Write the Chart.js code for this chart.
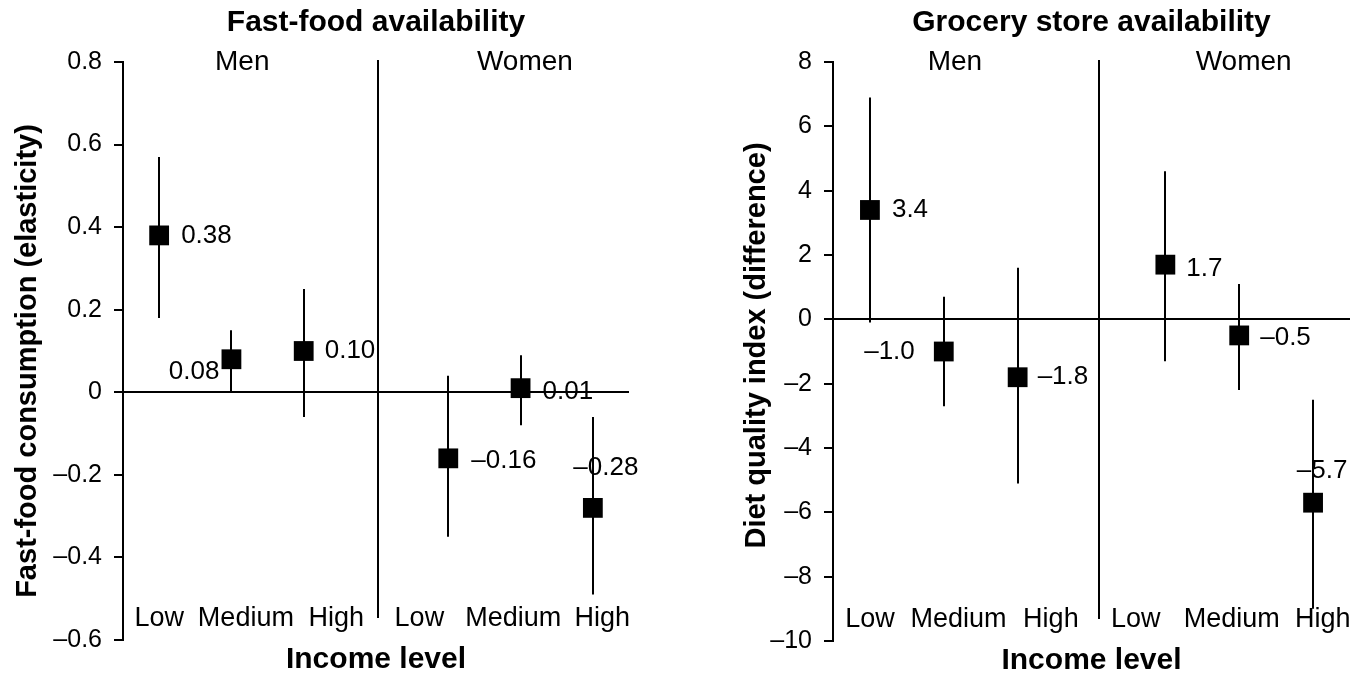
<!DOCTYPE html>
<html>
<head>
<meta charset="utf-8">
<script src="https://cdn.jsdelivr.net/npm/chart.js@4.4.1/dist/chart.umd.min.js"></script>
<style>
    html, body { margin: 0; padding: 0; background: #fff; }
    .painel { position: absolute; top: 0; }
    #painel-esq { left: 0; }
    #painel-dir { left: 683px; }
</style>
</head>
<body>
<canvas id="painel-esq" class="painel" width="683" height="677"></canvas>
<canvas id="painel-dir" class="painel" width="683" height="677"></canvas>
<script>
// Dados
const groups = ['Men', 'Women'];
const incomeLevels = ['Low', 'Medium', 'High', 'Low', 'Medium', 'High'];
const slots = [0, 1, 2, 4, 5, 6];

// Fast-food availability (elasticidade)
const ffEstimate = [0.38, 0.08, 0.10, -0.16, 0.01, -0.28];
const ffLower = [0.18, 0.00, -0.06, -0.35, -0.08, -0.49];
const ffUpper = [0.57, 0.15, 0.25, 0.04, 0.09, -0.06];
const ffTicks = [-0.6, -0.4, -0.2, 0, 0.2, 0.4, 0.6, 0.8];

// Grocery store availability (diferença)
const gsEstimate = [3.4, -1.0, -1.8, 1.7, -0.5, -5.7];
const gsLower = [-0.1, -2.7, -5.1, -1.3, -2.2, -9.0];
const gsUpper = [6.9, 0.7, 1.6, 4.6, 1.1, -2.5];
const gsTicks = [-10, -8, -6, -4, -2, 0, 2, 4, 6, 8];

const FONT = "'Liberation Sans', Arial, Helvetica, sans-serif";

/**
 * Formata número com sinal de menos tipográfico
 */
function fmt(v, casas) {
    const s = casas === undefined ? String(v) : Math.abs(v).toFixed(casas);
    if (casas === undefined) return s.replace('-', '\u2013');
    return (v < 0 ? '\u2013' : '') + s;
}

/**
 * Plugin que desenha barras de erro, divisória e textos do painel
 */
const painelExtras = {
    id: 'painelExtras',
    beforeDatasetsDraw(chart, args, opts) {
        const ctx = chart.ctx;
        const x = chart.scales.x;
        const y = chart.scales.y;
        const area = chart.chartArea;
        ctx.save();
        ctx.strokeStyle = '#000';
        ctx.lineWidth = 2;
        // Barras de erro (intervalo de confiança)
        opts.lower.forEach((lo, i) => {
            const px = Math.round(x.getPixelForValue(slots[i]));
            ctx.beginPath();
            ctx.moveTo(px, y.getPixelForValue(opts.upper[i]));
            ctx.lineTo(px, y.getPixelForValue(lo));
            ctx.stroke();
        });
        // Divisória entre homens e mulheres
        const dx = Math.round(x.getPixelForValue(opts.dividerAt));
        ctx.beginPath();
        ctx.moveTo(dx, area.top - 2);
        ctx.lineTo(dx, area.bottom - 22);
        ctx.stroke();
        ctx.restore();
    },
    afterDraw(chart, args, opts) {
        const ctx = chart.ctx;
        const x = chart.scales.x;
        const y = chart.scales.y;
        const area = chart.chartArea;
        const centro = (area.left + area.right) / 2;
        ctx.save();
        ctx.fillStyle = '#000';
        ctx.textBaseline = 'middle';

        // Título principal
        ctx.font = 'bold 30px ' + FONT;
        ctx.textAlign = 'center';
        ctx.fillText(opts.title, centro, 23);

        // Título do eixo x
        ctx.fillText('Income level', centro, area.bottom + 20);

        // Título do eixo y
        ctx.save();
        ctx.font = 'bold 29px ' + FONT;
        ctx.translate(area.left - opts.yTitleGap, (area.top + area.bottom) / 2 + opts.yTitleShift);
        ctx.rotate(-Math.PI / 2);
        ctx.fillText(opts.yTitle, 0, 0);
        ctx.restore();

        // Rótulos de grupo
        ctx.font = '28px ' + FONT;
        groups.forEach((g, i) => {
            ctx.fillText(g, x.getPixelForValue(opts.groupAt[i]), area.top);
        });

        // Rótulos de renda
        ctx.font = '27px ' + FONT;
        incomeLevels.forEach((lab, i) => {
            ctx.fillText(lab, x.getPixelForValue(opts.levelAt[i]), area.bottom - 21);
        });

        // Rótulos de valor
        ctx.font = '26px ' + FONT;
        opts.values.forEach((v, i) => {
            const pos = opts.labelPos[i];
            const px = x.getPixelForValue(slots[i]) + pos[1];
            const py = y.getPixelForValue(v) + pos[2];
            ctx.textAlign = pos[0];
            ctx.fillText(fmt(v, opts.decimals), px, py);
        });
        ctx.restore();
    }
};

/**
 * Cria um painel do gráfico
 */
function criarPainel(id, cfg) {
    const ctx = document.getElementById(id).getContext('2d');
    return new Chart(ctx, {
        type: 'scatter',
        data: {
            datasets: [{
                data: cfg.values.map((v, i) => ({ x: slots[i], y: v })),
                pointStyle: 'rect',
                pointRadius: 14,
                pointHoverRadius: 14,
                backgroundColor: '#000',
                borderWidth: 0
            }]
        },
        options: {
            responsive: false,
            animation: false,
            events: [],
            layout: {
                padding: { left: 0, right: cfg.padRight, top: 62, bottom: cfg.padBottom }
            },
            plugins: {
                legend: { display: false },
                tooltip: { enabled: false },
                painelExtras: {
                    title: cfg.title,
                    yTitle: cfg.yTitle,
                    yTitleGap: cfg.yTitleGap,
                    yTitleShift: cfg.yTitleShift,
                    values: cfg.values,
                    lower: cfg.lower,
                    upper: cfg.upper,
                    decimals: cfg.decimals,
                    labelPos: cfg.labelPos,
                    dividerAt: cfg.dividerAt,
                    groupAt: [1.15, 5.06],
                    levelAt: [0, 1.2, 2.45, 3.6, 4.9, 6.13]
                }
            },
            scales: {
                x: {
                    type: 'linear',
                    min: -0.5,
                    max: 6.5,
                    display: false
                },
                y: {
                    min: cfg.ticks[0],
                    max: cfg.ticks[cfg.ticks.length - 1],
                    afterBuildTicks: scale => {
                        scale.ticks = cfg.ticks.map(v => ({ value: v }));
                    },
                    afterFit: scale => {
                        scale.width = cfg.axisWidth;
                    },
                    border: { display: true, color: '#000', width: 2 },
                    grid: {
                        drawOnChartArea: true,
                        color: c => (c.tick && c.tick.value === 0 ? '#000' : 'rgba(0,0,0,0)'),
                        lineWidth: 2,
                        tickLength: 9,
                        tickColor: '#000',
                        tickWidth: 2
                    },
                    ticks: {
                        color: '#000',
                        padding: 12,
                        font: { size: 25, family: FONT },
                        callback: v => fmt(v)
                    }
                }
            }
        },
        plugins: [painelExtras]
    });
}

criarPainel('painel-esq', {
    title: 'Fast-food availability',
    yTitle: 'Fast-food consumption (elasticity)',
    yTitleGap: 95,
    yTitleShift: 10,
    values: ffEstimate,
    lower: ffLower,
    upper: ffUpper,
    ticks: ffTicks,
    decimals: 2,
    axisWidth: 123,
    padRight: 54,
    padBottom: 37,
    dividerAt: 3.03,
    labelPos: [['left', 22, 0], ['right', -12, 13], ['left', 21, 0],
               ['left', 23, 2], ['left', 22, 4], ['center', 13, -40]]
});

criarPainel('painel-dir', {
    title: 'Grocery store availability',
    yTitle: 'Diet quality index (difference)',
    yTitleGap: 76,
    yTitleShift: -6,
    values: gsEstimate,
    lower: gsLower,
    upper: gsUpper,
    ticks: gsTicks,
    decimals: 1,
    axisWidth: 150,
    padRight: 16,
    padBottom: 36,
    dividerAt: 3.1,
    labelPos: [['left', 22, 0], ['right', -29, 0], ['left', 20, 0],
               ['left', 21, 4], ['left', 21, 2], ['center', 9, -32]]
});
</script>
</body>
</html>
